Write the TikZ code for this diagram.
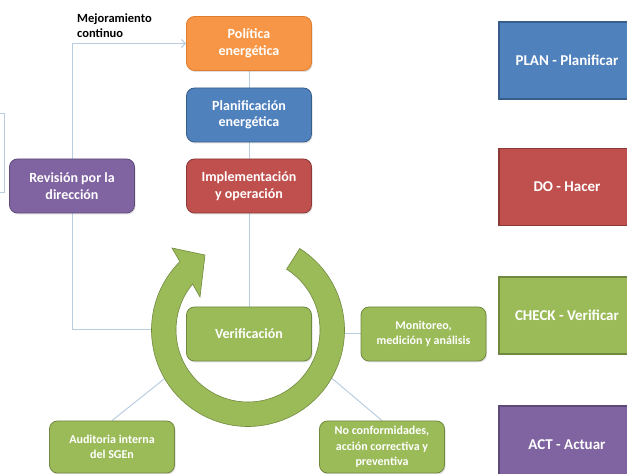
\documentclass[tikz,border=0pt]{standalone}
\usepackage{fontspec}
\setmainfont{Carlito}
\usetikzlibrary{arrows.meta,shadows,backgrounds,calc}
\definecolor{cOr}{RGB}{247,150,70}
\definecolor{cOrD}{RGB}{224,124,44}
\definecolor{cBl}{RGB}{79,129,189}
\definecolor{cBlD}{RGB}{56,93,138}
\definecolor{cRe}{RGB}{192,80,77}
\definecolor{cReD}{RGB}{140,56,54}
\definecolor{cPu}{RGB}{128,100,162}
\definecolor{cPuD}{RGB}{94,73,120}
\definecolor{cGr}{RGB}{155,187,89}
\definecolor{cGrD}{RGB}{113,137,63}
\definecolor{cLn}{RGB}{185,205,225}
\begin{document}
\begin{tikzpicture}[x=1pt,y=1pt,
 rbox/.style={rectangle, rounded corners=8pt, minimum width=125pt, minimum height=54pt, inner sep=2pt, align=center, text=white, font=\bfseries\fontsize{14}{16.5}\selectfont, line width=0.8pt, drop shadow={opacity=0.25,shadow xshift=1pt,shadow yshift=-1.5pt}},
 sbox/.style={rbox, font=\bfseries\fontsize{12}{15.3}\selectfont},
 pdca/.style={rectangle, minimum width=136pt, minimum height=77pt, line width=1.6pt, text=white, font=\bfseries\fontsize{15}{18}\selectfont},
 conn/.style={draw=cLn, line width=1pt},
]
\useasboundingbox (0,0) rectangle (627,474);
% partial box at left edge
\draw[cLn, line width=0.8pt] (-10,361) rectangle (4,282);

\node[rbox, fill=cOr, draw=cOrD] (pol) at (249,430.5) {Política\\energética};
\node[rbox, fill=cBl, draw=cBlD] (pla) at (249,359) {Planificación\\energética};
\node[rbox, fill=cRe, draw=cReD] (imp) at (249,288) {Implementación\\y operación};
\node[rbox, fill=cPu, draw=cPuD] (rev) at (72,288) {Revisión por la\\dirección};
\node[rbox, fill=cGr, draw=cGrD] (ver) at (249,140) {Verificación};
\node[sbox, fill=cGr, draw=cGrD] (mon) at (423.5,140) {Monitoreo,\\medición y análisis};
\node[sbox, fill=cGr, draw=cGrD, minimum height=52pt] (noc) at (382,27) {No conformidades,\\acción correctiva y\\preventiva};
\node[sbox, fill=cGr, draw=cGrD, minimum height=52pt] (aud) at (112,27) {Auditoria interna\\del SGEn};
\node[font=\bfseries\fontsize{12.5}{15.3}\selectfont, align=left, anchor=west, inner sep=0pt] (mej) at (77,448.5) {Mejoramiento\\continuo};

\node[pdca, fill=cBl, draw=cBlD] (plan) at (567,413.5) {PLAN - Planificar};
\node[pdca, fill=cRe, draw=cReD] (do) at (567,287) {DO - Hacer};
\node[pdca, fill=cGr, draw=cGrD] (check) at (567,158.5) {CHECK - Verificar};
\node[pdca, fill=cPu, draw=cPuD] (act) at (567,29.5) {ACT - Actuar};

\coordinate (c) at (248,144);
\coordinate (ringW) at (170,144);

\begin{pgfonlayer}{background}
\draw[conn] (pol) -- (pla);
\draw[conn] (pla) -- (imp);
\draw[conn,-{Straight Barb[length=4pt,width=8pt]}] (rev.north) |- (pol.west);
\draw[conn] (rev.south) |- (ringW);
\draw[conn] (mon.west) -- (ver.east);
\draw[conn] (noc.north) -- (ver.south east);
\draw[conn] (aud.north) -- (ver.south west);
\fill[white] (c) circle[radius=72];
\filldraw[fill=cGr, draw=cGrD, line width=0.6pt]
  ($(c)+(57.6:96.5)$) arc[start angle=57.6, end angle=-225.1, radius=96.5]
  -- ($(c)+(-76,82)$) -- ($(c)+(-43,75)$) -- ($(c)+(-48,33)$)
  -- ($(c)+(140.3:72)$) arc[start angle=-219.7, end angle=57.6, radius=72]
  -- cycle;
\draw[conn] (imp) -- (ver);
\end{pgfonlayer}
\end{tikzpicture}
\end{document}
